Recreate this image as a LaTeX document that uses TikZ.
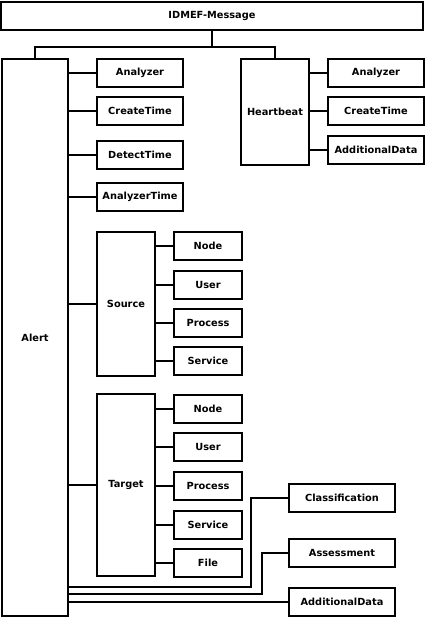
\documentclass[tikz,border=0pt]{standalone}
\usepackage{fontspec}
\setmainfont{DejaVu Sans}
\begin{document}
\begin{tikzpicture}[x=1pt,y=-1pt,line width=2pt,
  box/.style={draw,fill=white,inner sep=0pt,font=\bfseries\fontsize{9.8}{12}\selectfont},
  leaf/.style={box,minimum width=#1,minimum height=28pt},
  leaf/.default=86pt]
  \useasboundingbox[fill=white] (0,0) rectangle (425,617);
  \node[box,minimum width=422pt,minimum height=28pt] (msg) at (212,16) {IDMEF-Message};
  \node[box,minimum width=66pt,minimum height=557pt] (alert) at (35,337.5) {Alert};
  \node[box,minimum width=68pt,minimum height=106pt] (hb) at (275,112) {Heartbeat};
  \node[box,minimum width=58pt,minimum height=144pt] (src) at (126,304) {Source};
  \node[box,minimum width=58pt,minimum height=182pt] (tgt) at (126,485) {Target};
  \draw (msg.south) -- ++(0,16) coordinate (split);
  \draw (alert.north) |- (split) -| (hb.north);
  \draw (src.west) -- (src.west -| alert.east);
  \draw (tgt.west) -- (tgt.west -| alert.east);
  \foreach \i/\yp/\txt in {1/73/Analyzer,2/111/CreateTime,3/155/DetectTime,4/197/AnalyzerTime}{
    \node[leaf] (al\i) at (140,\yp) {\txt};
    \draw (al\i.west) -- (al\i.west -| alert.east);
  }
  \foreach \i/\yp/\txt in {1/73/Analyzer,2/111/CreateTime,3/150/AdditionalData}{
    \node[leaf=96pt] (hb\i) at (376,\yp) {\txt};
    \draw (hb\i.west) -- (hb\i.west -| hb.east);
  }
  \foreach \i/\yp/\txt in {1/246/Node,2/285/User,3/323/Process,4/361/Service}{
    \node[leaf=68pt] (sr\i) at (208,\yp) {\txt};
    \draw (sr\i.west) -- (sr\i.west -| src.east);
  }
  \foreach \i/\yp/\txt in {1/409/Node,2/447/User,3/486/Process,4/525/Service,5/563/File}{
    \node[leaf=68pt] (tg\i) at (208,\yp) {\txt};
    \draw (tg\i.west) -- (tg\i.west -| tgt.east);
  }
  \node[leaf=106pt] (cls) at (342,498) {Classification};
  \node[leaf=106pt] (asm) at (342,553) {Assessment};
  \node[leaf=106pt] (add) at (342,602) {AdditionalData};
  \coordinate (clsbend) at (251,587);
  \coordinate (asmbend) at (262,594);
  \draw (cls.west) -| (clsbend) -- (clsbend -| alert.east);
  \draw (asm.west) -| (asmbend) -- (asmbend -| alert.east);
  \draw (add.west) -- (add.west -| alert.east);
\end{tikzpicture}
\end{document}
